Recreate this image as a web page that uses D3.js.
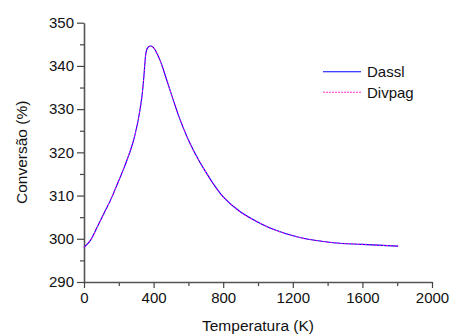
<!DOCTYPE html>
<html>
<head>
<meta charset="utf-8">
<script src="https://cdn.jsdelivr.net/npm/d3@7"></script>
<style>
  body { margin: 0; background: #fff; }
  text { font-family: Arial, "Liberation Sans", sans-serif; fill: #111; }
</style>
</head>
<body>
<script>
//data
var temps = [0, 38, 77, 115, 153, 191, 230, 268, 290, 312, 331, 343, 350, 356, 363, 379, 398, 436, 475, 513, 551, 609, 666, 704, 742, 800, 896, 992, 1087, 1240, 1432, 1600, 1805];
var dassl = [298.0, 299.7, 302.8, 305.9, 309.0, 312.6, 316.4, 320.6, 323.6, 327.6, 332.3, 337.0, 340.6, 343.0, 344.0, 344.6, 344.3, 341.4, 336.8, 332.1, 327.7, 322.1, 317.7, 315.2, 312.8, 309.7, 306.3, 304.0, 302.2, 300.3, 299.1, 298.7, 298.3];
var divpag = [298.0, 299.7, 302.8, 305.9, 309.0, 312.6, 316.4, 320.6, 323.6, 327.6, 332.3, 337.0, 340.6, 343.0, 344.0, 344.6, 344.3, 341.4, 336.8, 332.1, 327.7, 322.1, 317.7, 315.2, 312.8, 309.7, 306.3, 304.0, 302.2, 300.3, 299.1, 298.7, 298.3];
var xTicks = [0, 400, 800, 1200, 1600, 2000];
var yTicks = [290, 300, 310, 320, 330, 340, 350];
var seriesNames = ["Dassl", "Divpag"];

var width = 453, height = 335;
var plotLeft = 84, plotRight = 432, plotTop = 22.7, plotBottom = 282;

var svg = d3.select("body").append("svg")
    .attr("width", width)
    .attr("height", height);

var x = d3.scaleLinear().domain([0, 2000]).range([plotLeft, plotRight]);
var y = d3.scaleLinear().domain([290, 350]).range([plotBottom, plotTop]);

//minor ticks first
svg.append("g")
    .attr("transform", "translate(0," + plotBottom + ")")
    .call(d3.axisBottom(x).tickValues(d3.range(200, 2000, 400)).tickSize(4).tickFormat(""))
    .call(function(g){ g.select(".domain").remove(); });
svg.append("g")
    .attr("transform", "translate(" + plotLeft + ",0)")
    .call(d3.axisLeft(y).tickValues(d3.range(295, 350, 10)).tickSize(4).tickFormat(""))
    .call(function(g){ g.select(".domain").remove(); });

//major axes
svg.append("g")
    .attr("transform", "translate(0," + plotBottom + ")")
    .call(d3.axisBottom(x).tickValues(xTicks).tickSize(6).tickSizeOuter(0).tickPadding(4).tickFormat(d3.format("d")));
svg.append("g")
    .attr("transform", "translate(" + plotLeft + ",0)")
    .call(d3.axisLeft(y).tickValues(yTicks).tickSize(7).tickSizeOuter(0).tickPadding(3).tickFormat(d3.format("d")));

svg.selectAll(".tick line").attr("stroke", "#444").attr("stroke-width", 1.2);
svg.selectAll(".domain").attr("stroke", "#555").attr("stroke-width", 1.6);
svg.selectAll(".tick text")
    .style("font-family", "Arial, 'Liberation Sans', sans-serif")
    .style("font-size", "15px")
    .attr("fill", "#111");

//axis titles
svg.append("text")
    .attr("x", (plotLeft + plotRight) / 2)
    .attr("y", 331)
    .attr("text-anchor", "middle")
    .style("font-size", "15.5px")
    .text("Temperatura (K)");

svg.append("text")
    .attr("transform", "translate(27," + ((plotTop + plotBottom) / 2) + ") rotate(-90)")
    .attr("text-anchor", "middle")
    .style("font-size", "15.5px")
    .text("Conversão (%)");

//lines
var line = d3.line()
    .x(function(d){ return x(d[0]); })
    .y(function(d){ return y(d[1]); })
    .curve(d3.curveCatmullRom.alpha(0.5));

svg.append("path")
    .datum(temps.map(function(t, i){ return [t, dassl[i]]; }))
    .attr("fill", "none")
    .attr("stroke", "#0000ff")
    .attr("stroke-width", 1.1)
    .attr("d", line);

svg.append("path")
    .datum(temps.map(function(t, i){ return [t, divpag[i]]; }))
    .attr("fill", "none")
    .attr("stroke", "#ff00cc")
    .attr("stroke-width", 1.1)
    .attr("stroke-dasharray", "1.5,2")
    .attr("d", line);

//legend
var legend = svg.append("g");
var legendStyles = [
    {stroke: "#0000ff", dash: null},
    {stroke: "#ff33cc", dash: "2,1"}
];
seriesNames.forEach(function(name, i){
    var ly = 71.7 + i * 20.6;
    legend.append("line")
        .attr("x1", 323).attr("x2", 361)
        .attr("y1", ly).attr("y2", ly)
        .attr("stroke", legendStyles[i].stroke)
        .attr("stroke-width", 1.1)
        .attr("stroke-dasharray", legendStyles[i].dash);
    legend.append("text")
        .attr("x", 367)
        .attr("y", ly + 5.5)
        .style("font-size", "15px")
        .text(name);
});
</script>
</body>
</html>
